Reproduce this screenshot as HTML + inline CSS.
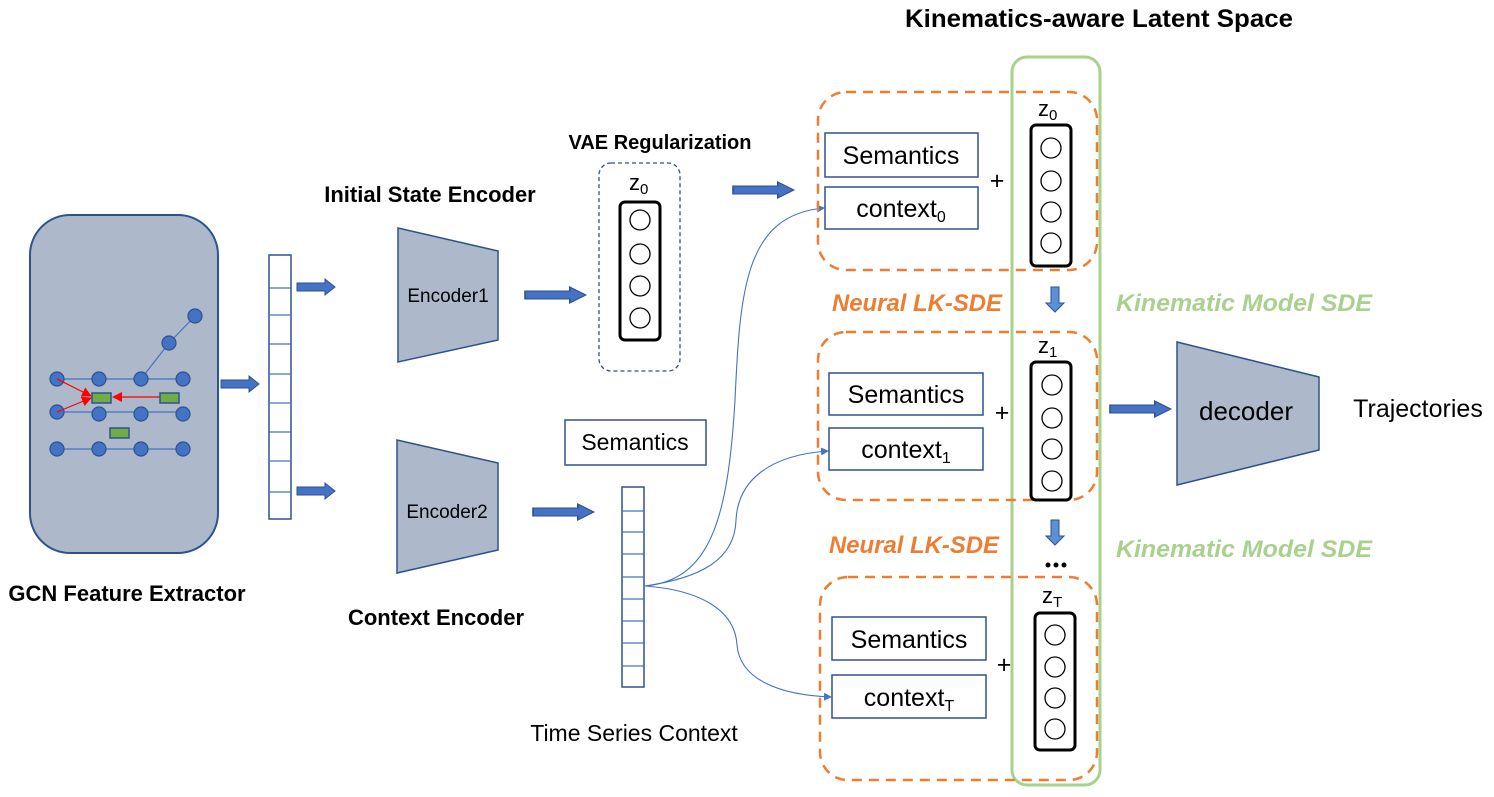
<!DOCTYPE html>
<html><head><meta charset="utf-8"><style>
html,body{margin:0;padding:0;background:#fff}
svg{display:block}
text{font-family:"Liberation Sans",sans-serif}
</style></head><body>
<svg width="1494" height="797" viewBox="0 0 1494 797" xmlns="http://www.w3.org/2000/svg">
<defs>
<marker id="ab" markerWidth="8" markerHeight="8" refX="7" refY="4" orient="auto" markerUnits="userSpaceOnUse"><path d="M0,0 L8,4 L0,8 z" fill="#4472c4"/></marker>
<marker id="ar" markerWidth="10" markerHeight="10" refX="9" refY="5" orient="auto" markerUnits="userSpaceOnUse"><path d="M0,0 L10,5 L0,10 z" fill="#ff0000"/></marker>
<g id="fat"><path d="M0,-4 L28,-4 L28,-8 L38,0 L28,8 L28,4 L0,4 z" fill="#4472c4" stroke="#2f528f" stroke-width="1"/></g>
<g id="down"><path d="M-4,0 L4,0 L4,16 L9,16 L0,25 L-9,16 L-4,16 z" fill="#5b8fd6" stroke="#2f528f" stroke-width="1"/></g>
</defs>

<!-- GCN box -->
<rect x="30" y="215" width="188" height="338" rx="40" fill="#adb9ca" stroke="#2f528f" stroke-width="2"/>
<g stroke="#4472c4" stroke-width="1.2">
<line x1="57" y1="379" x2="183" y2="379"/><line x1="57" y1="412" x2="183" y2="412"/><line x1="57" y1="449" x2="183" y2="449"/>
<line x1="141" y1="379" x2="169" y2="343"/><line x1="169" y1="343" x2="195" y2="316"/>
</g>
<g fill="#4472c4" stroke="#2f528f" stroke-width="1.2">
<circle cx="57" cy="379" r="7"/><circle cx="99" cy="379" r="7"/><circle cx="141" cy="379" r="7"/><circle cx="183" cy="379" r="7"/>
<circle cx="57" cy="412" r="7"/><circle cx="99" cy="414" r="7"/><circle cx="141" cy="414" r="7"/><circle cx="183" cy="414" r="7"/>
<circle cx="57" cy="449" r="7"/><circle cx="99" cy="449" r="7"/><circle cx="141" cy="449" r="7"/><circle cx="183" cy="449" r="7"/>
<circle cx="169" cy="343" r="7"/><circle cx="195" cy="316" r="7"/>
</g>
<g stroke="#ff0000" stroke-width="1.2">
<line x1="160" y1="397" x2="113" y2="397" marker-end="url(#ar)"/>
<line x1="57" y1="379" x2="91" y2="396" marker-end="url(#ar)"/>
<line x1="57" y1="412" x2="91" y2="398" marker-end="url(#ar)"/>
</g>
<g fill="#70ad47" stroke="#2f528f" stroke-width="1.5">
<rect x="92" y="393" width="19" height="10"/><rect x="160" y="393" width="19" height="10"/><rect x="110" y="428" width="19" height="10"/>
</g>

<use href="#fat" x="221" y="384"/>
<!-- feature vector -->
<rect x="269" y="255" width="22" height="264" fill="#fff" stroke="#2f528f" stroke-width="1.5"/>
<g stroke="#4472c4" stroke-width="1.2">
<line x1="269" y1="288" x2="291" y2="288"/><line x1="269" y1="315" x2="291" y2="315"/><line x1="269" y1="344" x2="291" y2="344"/><line x1="269" y1="374" x2="291" y2="374"/><line x1="269" y1="403" x2="291" y2="403"/><line x1="269" y1="432" x2="291" y2="432"/><line x1="269" y1="461" x2="291" y2="461"/><line x1="269" y1="492" x2="291" y2="492"/>
</g>
<use href="#fat" x="297" y="287"/>
<use href="#fat" x="297" y="491"/>

<!-- encoders -->
<path d="M398,228 L498,251 L498,340 L398,362 z" fill="#adb9ca" stroke="#2f528f" stroke-width="1.5"/>
<text x="448" y="302" font-size="19" text-anchor="middle">Encoder1</text>
<path d="M397,440 L498,463 L498,550 L397,573 z" fill="#adb9ca" stroke="#2f528f" stroke-width="1.5"/>
<text x="447" y="518" font-size="19" text-anchor="middle">Encoder2</text>
<text x="430" y="202" font-size="22" font-weight="bold" text-anchor="middle">Initial State Encoder</text>
<text x="436" y="625" font-size="22" font-weight="bold" text-anchor="middle">Context Encoder</text>
<text x="127" y="601" font-size="22" font-weight="bold" text-anchor="middle">GCN Feature Extractor</text>

<g transform="translate(525,295) scale(1.6,1) translate(-525,-295)"><use href="#fat" x="525" y="295"/></g>
<g transform="translate(533,512) scale(1.6,1) translate(-533,-512)"><use href="#fat" x="533" y="512"/></g>

<!-- VAE -->
<text x="660" y="149" font-size="20" font-weight="bold" text-anchor="middle">VAE Regularization</text>
<rect x="599" y="163" width="81" height="208" rx="12" fill="none" stroke="#2f528f" stroke-width="1.3" stroke-dasharray="4,3"/>
<text x="629" y="190" font-size="22">z<tspan font-size="15" dy="4">0</tspan></text>
<rect x="620" y="202" width="40" height="138" rx="5" fill="none" stroke="#000" stroke-width="3"/>
<g fill="none" stroke="#000" stroke-width="1.3"><circle cx="640" cy="220" r="10"/><circle cx="640" cy="254" r="10"/><circle cx="640" cy="286" r="10"/><circle cx="640" cy="318" r="10"/></g>
<g transform="translate(733,190) scale(1.6,1) translate(-733,-190)"><use href="#fat" x="733" y="190"/></g>

<!-- time series -->
<rect x="565" y="420" width="141" height="45" fill="#fff" stroke="#2f528f" stroke-width="1.5"/>
<text x="635" y="450" font-size="23" text-anchor="middle">Semantics</text>
<rect x="622" y="487" width="22" height="200" fill="#fff" stroke="#2f528f" stroke-width="1.5"/>
<g stroke="#4472c4" stroke-width="1.2">
<line x1="622" y1="511" x2="644" y2="511"/><line x1="622" y1="532" x2="644" y2="532"/><line x1="622" y1="554" x2="644" y2="554"/><line x1="622" y1="577" x2="644" y2="577"/><line x1="622" y1="599" x2="644" y2="599"/><line x1="622" y1="621" x2="644" y2="621"/><line x1="622" y1="643" x2="644" y2="643"/><line x1="622" y1="666" x2="644" y2="666"/>
</g>
<text x="634" y="741" font-size="23" text-anchor="middle">Time Series Context</text>
<g fill="none" stroke="#4472c4" stroke-width="1.1">
<path d="M645,586 C710,580 728,520 735,400 C740,290 745,215 824,208" marker-end="url(#ab)"/>
<path d="M645,586 C700,578 735,560 736,520 C738,480 770,455 828,451" marker-end="url(#ab)"/>
<path d="M645,586 C700,590 735,610 737,645 C740,680 780,695 831,697" marker-end="url(#ab)"/>
</g>

<!-- green column -->
<rect x="1012" y="57" width="88" height="728" rx="15" fill="none" stroke="#a9d18e" stroke-width="3"/>
<text x="1099" y="27" font-size="25" font-weight="bold" text-anchor="middle" textLength="388" lengthAdjust="spacingAndGlyphs">Kinematics-aware Latent Space</text>

<!-- panels -->
<g fill="none" stroke="#ed7d31" stroke-width="2.5" stroke-dasharray="10,7">
<rect x="818" y="92" width="279" height="178" rx="28"/>
<rect x="818" y="332" width="279" height="168" rx="28"/>
<rect x="820" y="577" width="277" height="203" rx="28"/>
</g>
<g fill="#fff" stroke="#2f528f" stroke-width="1.5">
<rect x="825" y="133" width="153" height="44"/><rect x="825" y="187" width="153" height="42"/>
<rect x="829" y="373" width="154" height="42"/><rect x="829" y="428" width="154" height="42"/>
<rect x="832" y="617" width="154" height="43"/><rect x="832" y="675" width="154" height="43"/>
</g>
<g font-size="25" text-anchor="middle">
<text x="901" y="164">Semantics</text><text x="901" y="217">context<tspan font-size="16" dy="5">0</tspan></text>
<text x="906" y="403">Semantics</text><text x="906" y="458">context<tspan font-size="16" dy="5">1</tspan></text>
<text x="909" y="648">Semantics</text><text x="909" y="706">context<tspan font-size="16" dy="5">T</tspan></text>
<text x="997" y="189">+</text><text x="1002" y="421">+</text><text x="1004" y="673">+</text>
</g>
<g font-size="22">
<text x="1038" y="116">z<tspan font-size="15" dy="4">0</tspan></text>
<text x="1038" y="353">z<tspan font-size="15" dy="4">1</tspan></text>
<text x="1042" y="603">z<tspan font-size="15" dy="4">T</tspan></text>
</g>
<g fill="none" stroke="#000" stroke-width="3">
<rect x="1031" y="125" width="40" height="141" rx="5"/>
<rect x="1031" y="362" width="40" height="138" rx="5"/>
<rect x="1035" y="613" width="40" height="137" rx="5"/>
</g>
<g fill="none" stroke="#000" stroke-width="1.3">
<circle cx="1051" cy="148" r="10"/><circle cx="1051" cy="181" r="10"/><circle cx="1051" cy="212" r="10"/><circle cx="1051" cy="243" r="10"/>
<circle cx="1052" cy="385" r="10"/><circle cx="1052" cy="418" r="10"/><circle cx="1052" cy="449" r="10"/><circle cx="1052" cy="481" r="10"/>
<circle cx="1055" cy="635" r="10"/><circle cx="1055" cy="667" r="10"/><circle cx="1055" cy="698" r="10"/><circle cx="1055" cy="729" r="10"/>
</g>
<use href="#down" x="1055" y="287"/>
<use href="#down" x="1055" y="520"/>
<g fill="#000"><circle cx="1048" cy="565" r="2.5"/><circle cx="1056" cy="565" r="2.5"/><circle cx="1064" cy="565" r="2.5"/></g>

<g font-size="24" font-weight="bold" font-style="italic">
<text x="832" y="311" fill="#ed7d31" textLength="170" lengthAdjust="spacingAndGlyphs">Neural LK-SDE</text>
<text x="829" y="553" fill="#ed7d31" textLength="170" lengthAdjust="spacingAndGlyphs">Neural LK-SDE</text>
<text x="1116" y="311" fill="#a9d18e" textLength="256" lengthAdjust="spacingAndGlyphs">Kinematic Model SDE</text>
<text x="1116" y="557" fill="#a9d18e" textLength="256" lengthAdjust="spacingAndGlyphs">Kinematic Model SDE</text>
</g>

<!-- decoder -->
<g transform="translate(1110,409) scale(1.6,1) translate(-1110,-409)"><use href="#fat" x="1110" y="409"/></g>
<path d="M1177,342 L1319,377 L1319,450 L1177,485 z" fill="#adb9ca" stroke="#2f528f" stroke-width="1.5"/>
<text x="1246" y="420" font-size="26" text-anchor="middle">decoder</text>
<text x="1418" y="417" font-size="25" text-anchor="middle">Trajectories</text>
</svg>
</body></html>
